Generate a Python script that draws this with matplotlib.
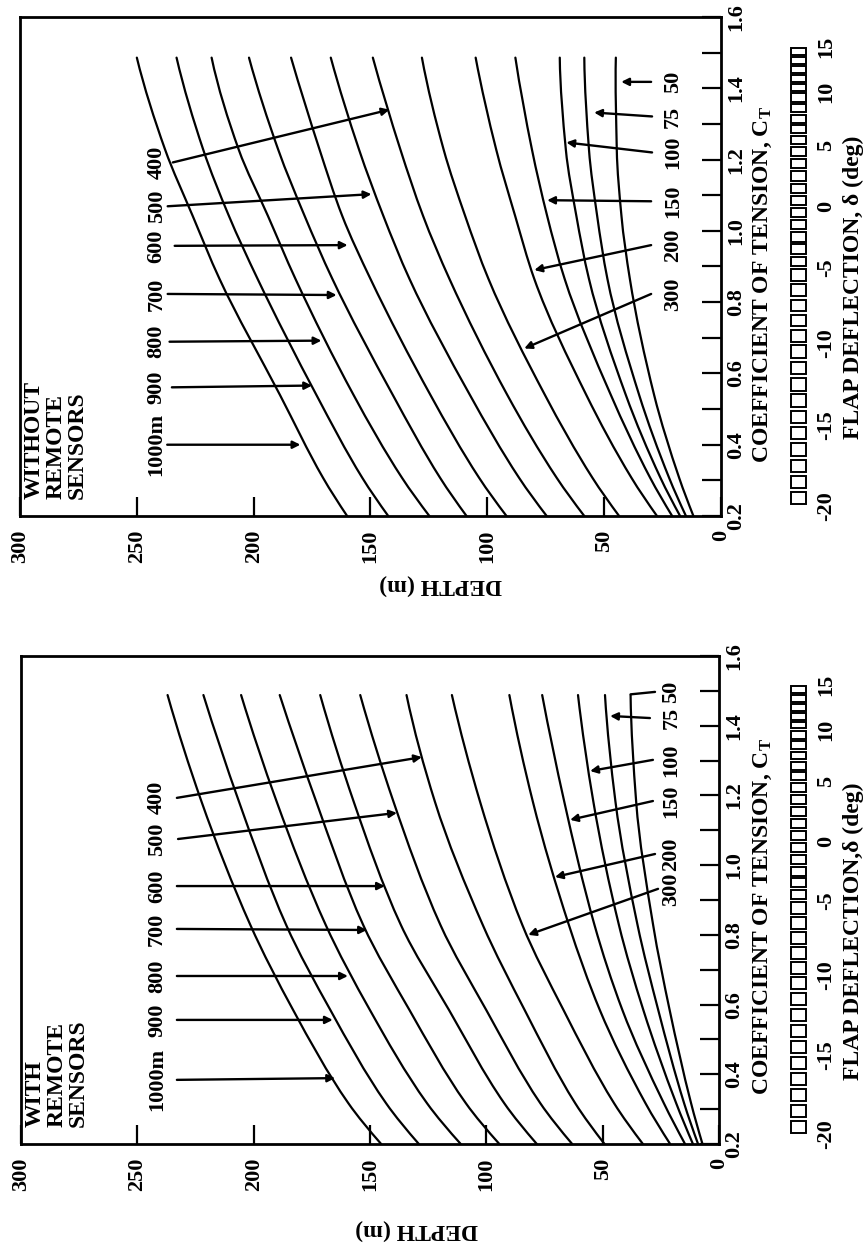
import numpy as np
import matplotlib
matplotlib.use('Agg')
import matplotlib.pyplot as plt
from matplotlib.patches import Rectangle, PathPatch
from matplotlib.path import Path

plt.rcParams['font.family'] = ['Liberation Serif', 'DejaVu Serif']
plt.rcParams['font.weight'] = 'bold'
plt.rcParams['mathtext.fontset'] = 'custom'
plt.rcParams['mathtext.rm'] = 'Liberation Serif:bold'
plt.rcParams['mathtext.bf'] = 'Liberation Serif:bold'
plt.rcParams['mathtext.it'] = 'Liberation Serif:bold'

# cable lengths of the curves (deepest first)
curve_labels = ['1000m', '900', '800', '700', '600', '500', '400',
                '300', '200', '150', '100', '75', '50']

# ---- WITHOUT REMOTE SENSORS: depth (m) read at these CT values
wo_ct = [0.2, 0.307, 0.539, 0.865, 1.042, 1.228, 1.486]
wo_depth = [
    [160.0, 170.3, 188.7, 214.6, 226.1, 237.9, 250.0],
    [142.4, 153.5, 173.1, 198.3, 210.6, 221.6, 233.0],
    [124.8, 136.5, 157.2, 182.1, 193.9, 206.4, 218.0],
    [108.9, 120.2, 140.4, 166.3, 178.2, 189.5, 202.0],
    [91.8, 103.5, 124.3, 150.0, 162.1, 171.8, 184.0],
    [74.6, 86.4, 107.4, 133.3, 144.5, 154.9, 167.0],
    [58.5, 70.3, 91.4, 116.2, 127.5, 137.2, 149.0],
    [43.6, 55.0, 75.3, 99.5, 109.5, 118.7, 128.0],
    [27.4, 38.3, 57.6, 79.9, 88.1, 96.2, 105.0],
    [20.9, 30.3, 47.1, 66.9, 74.4, 80.9, 88.0],
    [17.5, 25.9, 40.7, 56.5, 61.9, 66.4, 69.0],
    [15.0, 22.2, 35.0, 48.6, 53.0, 56.5, 58.5],
    [11.8, 17.9, 28.6, 39.0, 42.6, 44.6, 45.0],
]
# pointer arrows (depth, CT): labels 1000m..400 on the left side
wo_left_start = [(237, 0.40), (235, 0.561), (236, 0.689), (236.8, 0.823),
                 (233.8, 0.958), (236.8, 1.069), (234.6, 1.192)]
wo_left_end = [(180, 0.40), (175, 0.566), (171, 0.692), (164.5, 0.82),
               (159.8, 0.96), (149.6, 1.103), (141.9, 1.34)]
# labels 300..50 on the right side
wo_right_start = [(29.9, 0.823), (29.9, 0.96), (29.9, 1.083), (29.5, 1.22),
                  (29.5, 1.321), (29.9, 1.418)]
wo_right_end = [(84.2, 0.67), (79.9, 0.89), (74.4, 1.086), (66.2, 1.248),
                (54.3, 1.332), (42.7, 1.418)]

# ---- WITH REMOTE SENSORS
w_ct = [0.2, 0.317, 0.584, 0.828, 1.182, 1.488]
w_depth = [
    [145.2, 159.3, 183.0, 201.4, 222.4, 237.0],
    [129.0, 143.1, 167.0, 186.0, 206.3, 221.6],
    [111.0, 125.5, 150.0, 169.0, 190.1, 205.4],
    [94.4, 108.8, 133.0, 152.9, 173.1, 188.8],
    [78.3, 92.3, 116.0, 136.7, 157.0, 171.4],
    [63.1, 76.8, 100.0, 119.7, 139.9, 154.2],
    [49.2, 61.8, 83.5, 101.5, 122.1, 134.3],
    [32.7, 45.1, 66.8, 84.5, 102.7, 114.8],
    [21.0, 31.6, 51.2, 64.5, 80.0, 90.1],
    [14.6, 23.7, 41.5, 53.5, 66.5, 76.0],
    [11.2, 18.4, 32.5, 43.0, 54.0, 60.6],
    [9.0, 15.0, 26.1, 35.0, 44.5, 49.0],
    [7.1, 12.0, 21.2, 28.3, 35.6, 38.0],
]
w_left_start = [(233, 0.384), (233, 0.556), (233, 0.682), (233, 0.817),
                (233, 0.94), (232.5, 1.075), (233, 1.193)]
w_left_end = [(165, 0.389), (166, 0.556), (159.5, 0.682), (151.3, 0.814),
              (143.6, 0.94), (138.4, 1.15), (127.7, 1.31)]
w_right_start = [(26.2, 0.932), (27.5, 1.032), (28.4, 1.184), (28.4, 1.302),
                 (29.7, 1.422), (27.5, 1.497)]
w_right_end = [(82, 0.80), (70.5, 0.966), (64, 1.13), (55.4, 1.27),
               (46.8, 1.428), (38.0, 1.49)]

# flap deflection scale vs CT
flap_deg = [-20, -15, -10, -5, 0, 5, 10, 15]
flap_ct = [0.227, 0.455, 0.684, 0.898, 1.068, 1.240, 1.389, 1.516]

depth_ticks = [0, 50, 100, 150, 200, 250, 300]
ct_ticks = [0.2, 0.4, 0.6, 0.8, 1.0, 1.2, 1.4, 1.6]
ct_minor = [0.3, 0.5, 0.7, 0.9, 1.1, 1.3, 1.5]

W, H = 868, 1245
fig = plt.figure(figsize=(W / 100, H / 100), dpi=100)


def px_rect(x0, x1, y0, y1):
    return [x0 / W, 1 - y1 / H, (x1 - x0) / W, (y1 - y0) / H]


def smooth_path(ct, depth):
    # monotone cubic (pchip-like) bezier through the read points, depth(ct)
    t = np.asarray(ct, float)
    y = np.asarray(depth, float)
    h = np.diff(t)
    d = np.diff(y) / h
    n = len(t)
    m = np.zeros(n)
    for i in range(1, n - 1):
        if d[i - 1] * d[i] > 0:
            w1 = 2 * h[i] + h[i - 1]
            w2 = h[i] + 2 * h[i - 1]
            m[i] = (w1 + w2) / (w1 / d[i - 1] + w2 / d[i])
    m[0] = ((2 * h[0] + h[1]) * d[0] - h[0] * d[1]) / (h[0] + h[1])
    m[-1] = ((2 * h[-1] + h[-2]) * d[-1] - h[-1] * d[-2]) / (h[-1] + h[-2])
    verts = [(y[0], t[0])]
    codes = [Path.MOVETO]
    for i in range(n - 1):
        k = h[i] / 3.0
        verts += [(y[i] + m[i] * k, t[i] + k),
                  (y[i + 1] - m[i + 1] * k, t[i + 1] - k),
                  (y[i + 1], t[i + 1])]
        codes += [Path.CURVE4] * 3
    return Path(verts, codes)


def draw_panel(rect, ct, depth, ls, le, rs, re, title, right_styles):
    ax = fig.add_axes(rect)
    for row in depth:
        ax.add_patch(PathPatch(smooth_path(ct, row), facecolor='none',
                               edgecolor='k', lw=1.6, capstyle='round'))
    ax.set_xlim(300, 0)
    ax.set_ylim(0.2, 1.6)
    for s in ax.spines.values():
        s.set_linewidth(2.0)
    ax.set_xticks(depth_ticks)
    ax.set_xticklabels([str(d) for d in depth_ticks], rotation=90,
                       fontsize=16, fontweight='bold')
    ax.yaxis.tick_right()
    ax.set_yticks(ct_ticks)
    ax.set_yticks(ct_minor, minor=True)
    ax.set_yticklabels(['%.1f' % c for c in ct_ticks], rotation=90,
                       fontsize=16, fontweight='bold', va='center')
    ax.tick_params(axis='x', direction='in', length=14, width=1.6, pad=10)
    ax.tick_params(axis='y', which='both', direction='in', length=14,
                   width=1.6, pad=4, left=False, right=True)

    # left pointers
    for i, (a, b) in enumerate(zip(ls, le)):
        ax.annotate('', xy=b, xytext=a,
                    arrowprops=dict(arrowstyle='-|>', lw=1.7, color='k',
                                    mutation_scale=11, shrinkA=0, shrinkB=0))
        ax.text(241.5, a[1], curve_labels[i], rotation=90, ha='center',
                va='center', fontsize=16, fontweight='bold')
    # right pointers
    for i, (a, b) in enumerate(zip(rs, re)):
        ax.annotate('', xy=b, xytext=a,
                    arrowprops=dict(arrowstyle=right_styles[i], lw=1.7,
                                    color='k', mutation_scale=11,
                                    shrinkA=0, shrinkB=0))
        ax.text(20.5, a[1], curve_labels[7 + i], rotation=90, ha='center',
                va='center', fontsize=16, fontweight='bold')

    ax.text(0.005, 0.035, title, transform=ax.transAxes, rotation=90,
            ha='left', va='bottom', multialignment='left', fontsize=17,
            fontweight='bold', linespacing=1.05)
    return ax


def draw_ladder(rect):
    lad = fig.add_axes(rect)
    lad.set_xlim(0, 1)
    lad.set_ylim(0.2, 1.6)
    for s in lad.spines.values():
        s.set_visible(False)
    lad.set_xticks([])
    for d in range(flap_deg[0], flap_deg[-1]):
        y0 = np.interp(d, flap_deg, flap_ct)
        y1 = np.interp(d + 1, flap_deg, flap_ct)
        g = 0.12 * (y1 - y0)
        lad.add_patch(Rectangle((0.08, y0 + g), 0.84, y1 - y0 - 2 * g,
                                facecolor='white', edgecolor='k', lw=1.4))
    lad.yaxis.tick_right()
    lad.set_yticks(flap_ct)
    lad.set_yticklabels([str(d) for d in flap_deg], rotation=90,
                        fontsize=16, fontweight='bold', va='center')
    lad.tick_params(axis='y', length=0, pad=6, left=False)
    return lad


# top image panel: WITHOUT
draw_panel(px_rect(20, 721, 17, 516), wo_ct, wo_depth, wo_left_start,
           wo_left_end, wo_right_start, wo_right_end,
           'WITHOUT\nREMOTE\nSENSORS', ['-|>'] * 6)
draw_ladder(px_rect(789, 808, 17, 516))
fig.text(763 / W, 1 - 285 / H, r'COEFFICIENT OF TENSION, $\mathbf{C_T}$',
         rotation=90, ha='center', va='center', fontsize=17, fontweight='bold')
fig.text(853 / W, 1 - 287 / H, 'FLAP DEFLECTION, δ (deg)', rotation=90,
         ha='center', va='center', fontsize=17, fontweight='bold')
fig.text(441 / W, 1 - 585 / H, 'DEPTH (m)', rotation=180, ha='center',
         va='center', fontsize=17, fontweight='bold')

# bottom image panel: WITH
draw_panel(px_rect(21, 719, 656, 1144), w_ct, w_depth, w_left_start,
           w_left_end, w_right_start, w_right_end,
           'WITH\nREMOTE\nSENSORS', ['-|>'] * 5 + ['-'])
draw_ladder(px_rect(789, 808, 656, 1144))
fig.text(763 / W, 1 - 917 / H, r'COEFFICIENT OF TENSION, $\mathbf{C_T}$',
         rotation=90, ha='center', va='center', fontsize=17, fontweight='bold')
fig.text(853 / W, 1 - 931 / H, 'FLAP DEFLECTION,δ (deg)', rotation=90,
         ha='center', va='center', fontsize=17, fontweight='bold')
fig.text(417 / W, 1 - 1230 / H, 'DEPTH (m)', rotation=180, ha='center',
         va='center', fontsize=17, fontweight='bold')

fig.savefig('out.png', dpi=100)
